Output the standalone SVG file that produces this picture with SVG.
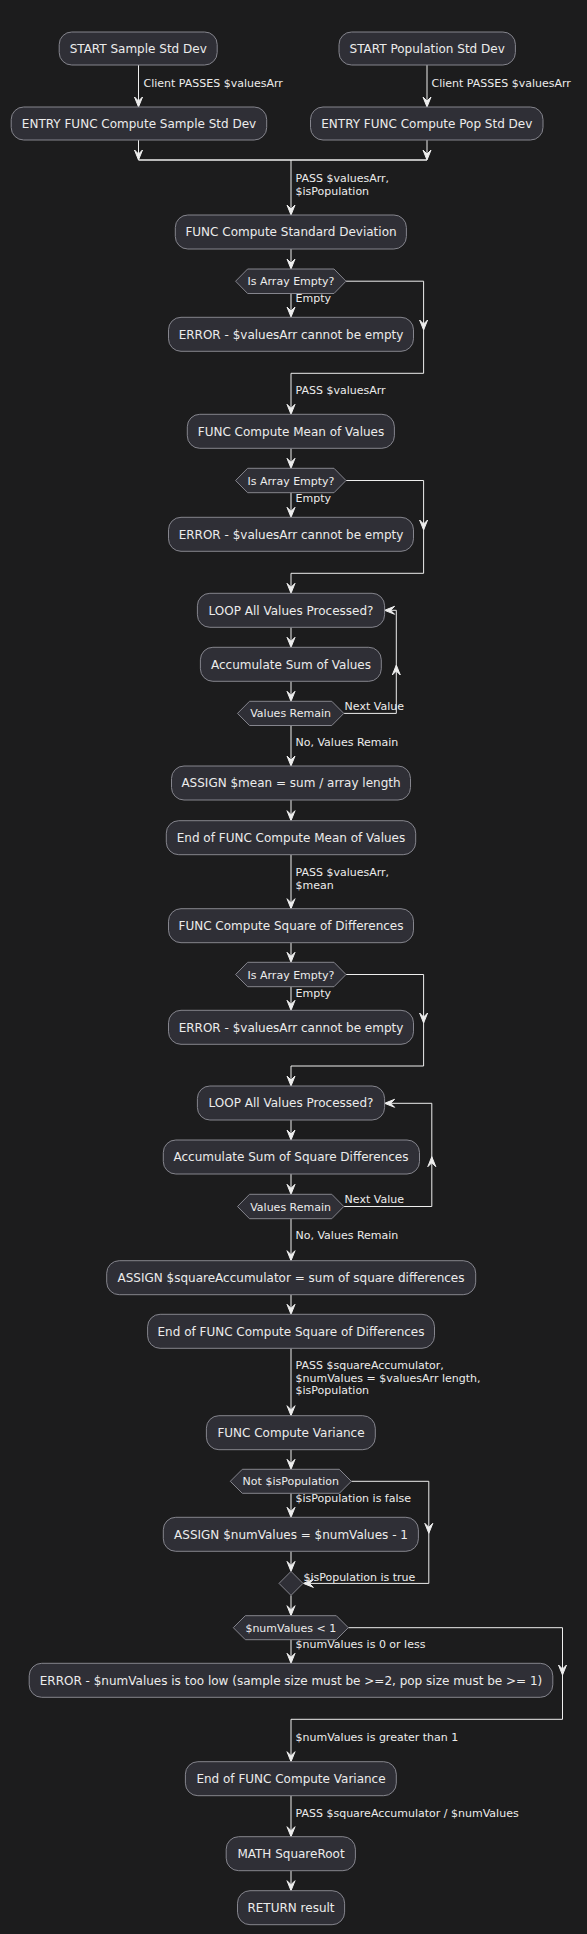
<svg xmlns="http://www.w3.org/2000/svg" xmlns:xlink="http://www.w3.org/1999/xlink" width="587" height="1934" viewBox="0 0 587 1934">
<style>
.bg{fill:#1c1c1d}
.box{fill:#2f2f36;stroke:#85858d;stroke-width:1}
.t{font-family:"DejaVu Sans",sans-serif;font-size:12px;fill:#ececec;text-anchor:middle}
.ht{font-family:"DejaVu Sans",sans-serif;font-size:11px;fill:#ececec;text-anchor:middle}
.lbl{font-family:"DejaVu Sans",sans-serif;font-size:11px;fill:#ececec}
.ln{fill:none;stroke:#eeeeee;stroke-width:1}
.ah{fill:#eeeeee;stroke:#eeeeee;stroke-width:1}
</style>
<defs>
<path id="ah" class="ah" d="M0,0 L-4,-10 L0,-6 L4,-10 Z"/>
</defs>
<rect class="bg" x="0" y="0" width="587" height="1934"/>

<g id="connectors">
<!-- top branches -->
<path class="ln" d="M138.5,65 V106"/><use xlink:href="#ah" transform="translate(138.5,107)"/>
<text class="lbl" x="143.5" y="87">Client PASSES $valuesArr</text>
<path class="ln" d="M427,65 V106"/><use xlink:href="#ah" transform="translate(427,107)"/>
<text class="lbl" x="431.5" y="87">Client PASSES $valuesArr</text>
<path class="ln" d="M138.5,140 V159"/><use xlink:href="#ah" transform="translate(138.5,160)"/>
<path class="ln" d="M427,140 V159"/><use xlink:href="#ah" transform="translate(427,160)"/>
<path class="ln" d="M138.5,160 H427" style="stroke-width:1.5"/>
<path class="ln" d="M291,160 V214"/><use xlink:href="#ah" transform="translate(291,215)"/>
<text class="lbl" x="295.5" y="182">PASS $valuesArr,</text>
<text class="lbl" x="295.5" y="194.5">$isPopulation</text>
<!-- std dev -->
<path class="ln" d="M291,249 V268"/><use xlink:href="#ah" transform="translate(291,269)"/>
<path class="ln" d="M291,293.5 V316"/><use xlink:href="#ah" transform="translate(291,317)"/>
<text class="lbl" x="295.5" y="302">Empty</text>
<path class="ln" d="M346,281.2 H423.6 V373.3 H291 V413"/>
<use xlink:href="#ah" transform="translate(423.6,330)"/>
<use xlink:href="#ah" transform="translate(291,414.3)"/>
<text class="lbl" x="295.5" y="394">PASS $valuesArr</text>
<!-- mean -->
<path class="ln" d="M291,448.3 V467"/><use xlink:href="#ah" transform="translate(291,468.3)"/>
<path class="ln" d="M291,492.7 V516"/><use xlink:href="#ah" transform="translate(291,517.3)"/>
<text class="lbl" x="295.5" y="502.3">Empty</text>
<path class="ln" d="M346,480.5 H423.6 V573.3 H291 V592"/>
<use xlink:href="#ah" transform="translate(423.6,530)"/>
<use xlink:href="#ah" transform="translate(291,593.3)"/>
<path class="ln" d="M291,627.3 V646"/><use xlink:href="#ah" transform="translate(291,647.3)"/>
<path class="ln" d="M291,681.3 V700"/><use xlink:href="#ah" transform="translate(291,701.3)"/>
<path class="ln" d="M343.8,713.4 H396.3 V610.3 H386"/>
<use xlink:href="#ah" transform="translate(396.3,665) rotate(180)"/>
<use xlink:href="#ah" transform="translate(384.6,610.3) rotate(90)"/>
<text class="lbl" x="344.6" y="710">Next Value</text>
<path class="ln" d="M291,725.5 V765"/><use xlink:href="#ah" transform="translate(291,766)"/>
<text class="lbl" x="295.5" y="745.7">No, Values Remain</text>
<path class="ln" d="M291,800 V819.5"/><use xlink:href="#ah" transform="translate(291,820.7)"/>
<path class="ln" d="M291,854.7 V907.5"/><use xlink:href="#ah" transform="translate(291,908.7)"/>
<text class="lbl" x="295.5" y="876">PASS $valuesArr,</text>
<text class="lbl" x="295.5" y="888.7">$mean</text>
<!-- square -->
<path class="ln" d="M291,942.7 V961"/><use xlink:href="#ah" transform="translate(291,962.3)"/>
<path class="ln" d="M291,986.7 V1009"/><use xlink:href="#ah" transform="translate(291,1010.3)"/>
<text class="lbl" x="295.5" y="996.7">Empty</text>
<path class="ln" d="M346,974.5 H423.6 V1066 H291 V1085"/>
<use xlink:href="#ah" transform="translate(423.6,1023)"/>
<use xlink:href="#ah" transform="translate(291,1086)"/>
<path class="ln" d="M291,1120 V1139"/><use xlink:href="#ah" transform="translate(291,1140)"/>
<path class="ln" d="M291,1174 V1193"/><use xlink:href="#ah" transform="translate(291,1194.3)"/>
<path class="ln" d="M343.8,1206.5 H431.8 V1103.3 H386"/>
<use xlink:href="#ah" transform="translate(431.8,1156.7) rotate(180)"/>
<use xlink:href="#ah" transform="translate(384.6,1103.3) rotate(90)"/>
<text class="lbl" x="344.6" y="1203.3">Next Value</text>
<path class="ln" d="M291,1218.7 V1259.5"/><use xlink:href="#ah" transform="translate(291,1260.7)"/>
<text class="lbl" x="295.5" y="1239.3">No, Values Remain</text>
<path class="ln" d="M291,1294.7 V1313"/><use xlink:href="#ah" transform="translate(291,1314.3)"/>
<path class="ln" d="M291,1348.3 V1414.5"/><use xlink:href="#ah" transform="translate(291,1415.7)"/>
<text class="lbl" x="295.5" y="1369">PASS $squareAccumulator,</text>
<text class="lbl" x="295.5" y="1381.7">$numValues = $valuesArr length,</text>
<text class="lbl" x="295.5" y="1394.3">$isPopulation</text>
<!-- variance -->
<path class="ln" d="M291,1449.7 V1468"/><use xlink:href="#ah" transform="translate(291,1469.3)"/>
<path class="ln" d="M291,1493.3 V1516"/><use xlink:href="#ah" transform="translate(291,1517.3)"/>
<text class="lbl" x="295.5" y="1502.3">$isPopulation is false</text>
<path class="ln" d="M291,1551.3 V1570"/><use xlink:href="#ah" transform="translate(291,1571.4)"/>
<path class="ln" d="M351.3,1481.3 H428.8 V1583.4 H305"/>
<use xlink:href="#ah" transform="translate(428.8,1533.3)"/>
<use xlink:href="#ah" transform="translate(303.4,1583.4) rotate(90)"/>
<text class="lbl" x="303.4" y="1580.7">$isPopulation is true</text>
<path class="ln" d="M291,1595.4 V1614.5"/><use xlink:href="#ah" transform="translate(291,1615.7)"/>
<path class="ln" d="M291,1639.7 V1662"/><use xlink:href="#ah" transform="translate(291,1663.3)"/>
<text class="lbl" x="295.5" y="1648">$numValues is 0 or less</text>
<path class="ln" d="M348.3,1627.7 H562.5 V1719.3 H291 V1760.5"/>
<use xlink:href="#ah" transform="translate(562.5,1675)"/>
<use xlink:href="#ah" transform="translate(291,1761.7)"/>
<text class="lbl" x="295.5" y="1740.7">$numValues is greater than 1</text>
<path class="ln" d="M291,1795.7 V1835.5"/><use xlink:href="#ah" transform="translate(291,1836.7)"/>
<text class="lbl" x="295.5" y="1816.7">PASS $squareAccumulator / $numValues</text>
<path class="ln" d="M291,1870.7 V1889.5"/><use xlink:href="#ah" transform="translate(291,1890.7)"/>
</g>

<g id="n_start_sample"><rect class="box" x="59.2" y="32" width="158" height="33" rx="12.5"/><text class="t" x="138.2" y="52.7">START Sample Std Dev</text></g>
<g id="n_start_pop"><rect class="box" x="339" y="32" width="176.4" height="33" rx="12.5"/><text class="t" x="427.2" y="52.7">START Population Std Dev</text></g>
<g id="n_entry_sample"><rect class="box" x="11.2" y="107" width="255.5" height="33" rx="12.5"/><text class="t" x="139" y="127.7">ENTRY FUNC Compute Sample Std Dev</text></g>
<g id="n_entry_pop"><rect class="box" x="310.5" y="107" width="232.5" height="33" rx="12.5"/><text class="t" x="426.8" y="127.7">ENTRY FUNC Compute Pop Std Dev</text></g>

<g id="n_func_std"><rect class="box" x="175.3" y="215" width="231.1" height="34" rx="12.5"/><text class="t" x="291" y="236.2">FUNC Compute Standard Deviation</text></g>
<g id="n_if1"><polygon class="box" points="235.6,281.2 247.6,269 334,269 346,281.2 334,293.5 247.6,293.5"/><text class="ht" x="291" y="285.2">Is Array Empty?</text></g>
<g id="n_err1"><rect class="box" x="168.5" y="317.3" width="245" height="34" rx="12.5"/><text class="t" x="291" y="338.5">ERROR - $valuesArr cannot be empty</text></g>

<g id="n_func_mean"><rect class="box" x="187.3" y="414.3" width="207.1" height="34" rx="12.5"/><text class="t" x="291" y="435.5">FUNC Compute Mean of Values</text></g>
<g id="n_if2"><polygon class="box" points="235.6,480.5 247.6,468.3 334,468.3 346,480.5 334,492.7 247.6,492.7"/><text class="ht" x="291" y="484.5">Is Array Empty?</text></g>
<g id="n_err2"><rect class="box" x="168.5" y="517.3" width="245" height="34" rx="12.5"/><text class="t" x="291" y="538.5">ERROR - $valuesArr cannot be empty</text></g>
<g id="n_loop1"><rect class="box" x="197.4" y="593.3" width="187.2" height="34" rx="12.5"/><text class="t" x="291" y="614.5">LOOP All Values Processed?</text></g>
<g id="n_acc1"><rect class="box" x="200.4" y="647.3" width="180.9" height="34" rx="12.5"/><text class="t" x="291" y="668.5">Accumulate Sum of Values</text></g>
<g id="n_vr1"><polygon class="box" points="237.5,713.4 249.5,701.3 331.8,701.3 343.8,713.4 331.8,725.5 249.5,725.5"/><text class="ht" x="290.6" y="717.4">Values Remain</text></g>
<g id="n_assign_mean"><rect class="box" x="171.5" y="766" width="239" height="34" rx="12.5"/><text class="t" x="291" y="787.2">ASSIGN $mean = sum / array length</text></g>
<g id="n_end_mean"><rect class="box" x="166.3" y="820.7" width="249.4" height="34" rx="12.5"/><text class="t" x="291" y="841.9">End of FUNC Compute Mean of Values</text></g>

<g id="n_func_sq"><rect class="box" x="168.5" y="908.7" width="245" height="34" rx="12.5"/><text class="t" x="291" y="929.9">FUNC Compute Square of Differences</text></g>
<g id="n_if3"><polygon class="box" points="235.6,974.5 247.6,962.3 334,962.3 346,974.5 334,986.7 247.6,986.7"/><text class="ht" x="291" y="978.5">Is Array Empty?</text></g>
<g id="n_err3"><rect class="box" x="168.5" y="1010.3" width="245" height="34" rx="12.5"/><text class="t" x="291" y="1031.5">ERROR - $valuesArr cannot be empty</text></g>
<g id="n_loop2"><rect class="box" x="197.4" y="1086" width="187.2" height="34" rx="12.5"/><text class="t" x="291" y="1107.2">LOOP All Values Processed?</text></g>
<g id="n_acc2"><rect class="box" x="163.3" y="1140" width="256.2" height="34" rx="12.5"/><text class="t" x="291" y="1161.2">Accumulate Sum of Square Differences</text></g>
<g id="n_vr2"><polygon class="box" points="237.5,1206.5 249.5,1194.3 331.8,1194.3 343.8,1206.5 331.8,1218.7 249.5,1218.7"/><text class="ht" x="290.6" y="1210.5">Values Remain</text></g>
<g id="n_assign_sq"><rect class="box" x="106.7" y="1260.7" width="369" height="34" rx="12.5"/><text class="t" x="291" y="1281.9">ASSIGN $squareAccumulator = sum of square differences</text></g>
<g id="n_end_sq"><rect class="box" x="147.6" y="1314.3" width="286.9" height="34" rx="12.5"/><text class="t" x="291" y="1335.5">End of FUNC Compute Square of Differences</text></g>

<g id="n_func_var"><rect class="box" x="206.4" y="1415.7" width="168.9" height="34" rx="12.5"/><text class="t" x="291" y="1436.9">FUNC Compute Variance</text></g>
<g id="n_ifpop"><polygon class="box" points="230.3,1481.3 242.3,1469.3 339.3,1469.3 351.3,1481.3 339.3,1493.3 242.3,1493.3"/><text class="ht" x="290.8" y="1485.3">Not $isPopulation</text></g>
<g id="n_assign_num"><rect class="box" x="163.3" y="1517.3" width="255.1" height="34" rx="12.5"/><text class="t" x="291" y="1538.5">ASSIGN $numValues = $numValues - 1</text></g>
<g id="n_merge"><polygon class="box" points="291,1571.4 303,1583.4 291,1595.4 279,1583.4"/></g>
<g id="n_ifnum"><polygon class="box" points="233.3,1627.7 245.3,1615.7 336.3,1615.7 348.3,1627.7 336.3,1639.7 245.3,1639.7"/><text class="ht" x="290.8" y="1631.7">$numValues &lt; 1</text></g>
<g id="n_err_num"><rect class="box" x="29.2" y="1663.3" width="523.6" height="34" rx="12.5"/><text class="t" x="291" y="1684.5">ERROR - $numValues is too low (sample size must be &gt;=2, pop size must be &gt;= 1)</text></g>
<g id="n_end_var"><rect class="box" x="185.4" y="1761.7" width="210.9" height="34" rx="12.5"/><text class="t" x="291" y="1782.9">End of FUNC Compute Variance</text></g>
<g id="n_sqrt"><rect class="box" x="226.2" y="1836.7" width="129.2" height="34" rx="12.5"/><text class="t" x="291" y="1857.9">MATH SquareRoot</text></g>
<g id="n_return"><rect class="box" x="237.5" y="1890.7" width="107.1" height="34" rx="12.5"/><text class="t" x="291" y="1911.9">RETURN result</text></g>
</svg>
